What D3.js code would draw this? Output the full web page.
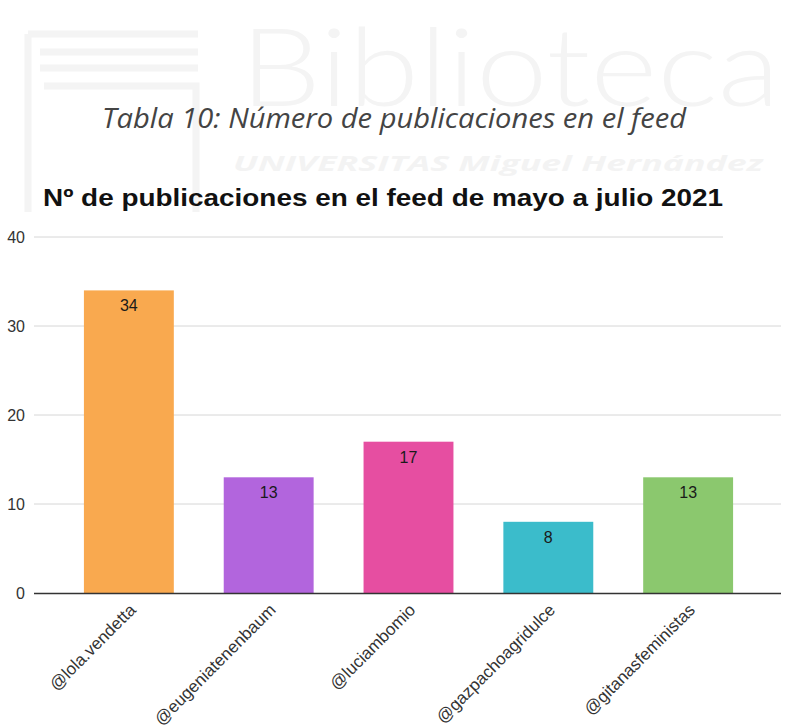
<!DOCTYPE html>
<html>
<head>
<meta charset="utf-8">
<script src="https://cdn.jsdelivr.net/npm/d3@7"></script>
<style>
  html, body { margin: 0; padding: 0; background: #ffffff; }
  svg { display: block; }
</style>
</head>
<body>
<svg id="chart" width="792" height="728"></svg>
<script>
// Publications in the feed, May to July 2021
const accounts = ["@lola.vendetta", "@eugeniatenenbaum", "@luciambomio", "@gazpachoagridulce", "@gitanasfeministas"];
const posts = [34, 13, 17, 8, 13];
const barColors = ["#f9a94f", "#b265dd", "#e64ea1", "#3bbccb", "#8bc86e"];
const yTicks = [0, 10, 20, 30, 40];

const svg = d3.select("#chart");
const W = 792, H = 728;
const margin = { left: 34, right: 9, top: 237, bottom: 135 };

// faint library watermark behind everything
const wm = svg.append("g").attr("class", "watermark");
wm.append("path")
  .attr("d", "M28,34 H198 M40,52 H198 M40,68 H198 M28,34 V212 M44,86 H196 V212")
  .attr("fill", "none").attr("stroke", "#f4f4f4").attr("stroke-width", 7);
wm.append("text")
  .attr("x", 240).attr("y", 106)
  .attr("textLength", 540).attr("lengthAdjust", "spacingAndGlyphs")
  .style("font-family", "Lato, 'Open Sans', sans-serif")
  .style("font-weight", 300).style("font-size", "108px")
  .attr("fill", "#f4f4f4")
  .text("Biblioteca");
wm.append("text")
  .attr("x", 233).attr("y", 171)
  .attr("textLength", 530).attr("lengthAdjust", "spacingAndGlyphs")
  .style("font-family", "'Open Sans', sans-serif")
  .style("font-style", "italic").style("font-weight", "bold").style("font-size", "22px")
  .attr("fill", "#f3f3f3")
  .text("UNIVERSITAS Miguel Hernández");

// document caption
svg.append("text")
  .attr("x", 394).attr("y", 128)
  .attr("text-anchor", "middle")
  .attr("textLength", 584).attr("lengthAdjust", "spacingAndGlyphs")
  .style("font-family", "'Open Sans', Lato, sans-serif")
  .style("font-style", "italic").style("font-size", "27px")
  .attr("fill", "#444444")
  .text("Tabla 10: Número de publicaciones en el feed");

// chart title
svg.append("text")
  .attr("x", 43).attr("y", 206)
  .attr("textLength", 680).attr("lengthAdjust", "spacingAndGlyphs")
  .style("font-family", "'Liberation Sans', Arial, sans-serif")
  .style("font-weight", "bold").style("font-size", "24px")
  .attr("fill", "#111111")
  .text("Nº de publicaciones en el feed de mayo a julio 2021");

const x = d3.scaleBand()
  .domain(accounts)
  .range([margin.left, W - margin.right])
  .paddingInner(0.357)
  .paddingOuter(0.357);

const y = d3.scaleLinear()
  .domain([0, 40])
  .range([H - margin.bottom, margin.top]);

// horizontal gridlines (the top one is shorter)
svg.append("g").selectAll("line")
  .data(yTicks.filter(d => d > 0))
  .join("line")
  .attr("x1", margin.left)
  .attr("x2", d => d === 40 ? 723 : W - margin.right - 2)
  .attr("y1", d => y(d)).attr("y2", d => y(d))
  .attr("stroke", "#d6d6d6").attr("stroke-width", 1);

// y-axis tick labels
const yAxis = d3.axisLeft(y).tickValues(yTicks).tickSize(0).tickPadding(9);
svg.append("g")
  .attr("transform", `translate(${margin.left},0)`)
  .call(yAxis)
  .call(g => g.select(".domain").remove())
  .call(g => g.selectAll("text")
    .style("font-family", "'Liberation Sans', Arial, sans-serif")
    .style("font-size", "16px")
    .attr("fill", "#333333"));

// bars
svg.append("g").selectAll("rect")
  .data(posts)
  .join("rect")
  .attr("x", (d, i) => x(accounts[i]))
  .attr("width", x.bandwidth())
  .attr("y", d => y(d))
  .attr("height", d => y(0) - y(d))
  .attr("fill", (d, i) => barColors[i]);

// value labels inside the top of each bar
svg.append("g").selectAll("text")
  .data(posts)
  .join("text")
  .attr("x", (d, i) => x(accounts[i]) + x.bandwidth() / 2)
  .attr("y", d => y(d) + 21)
  .attr("text-anchor", "middle")
  .style("font-family", "'Liberation Sans', Arial, sans-serif")
  .style("font-size", "16px")
  .attr("fill", "#1a1a1a")
  .text(d => d);

// x axis baseline and rotated category labels
const xAxis = d3.axisBottom(x).tickSize(0).tickPadding(0);
svg.append("g")
  .attr("transform", `translate(0,${y(0)})`)
  .call(xAxis)
  .call(g => g.select(".domain")
    .attr("d", `M${margin.left},0.5H${W - margin.right - 2}`)
    .attr("stroke", "#333333").attr("stroke-width", 1.3))
  .call(g => g.selectAll(".tick text")
    .attr("text-anchor", "end")
    .attr("dy", 0)
    .attr("transform", "translate(8,18) rotate(-45)")
    .style("font-family", "'Liberation Sans', Arial, sans-serif")
    .style("font-size", "17px")
    .attr("fill", "#333333"));
</script>
</body>
</html>
